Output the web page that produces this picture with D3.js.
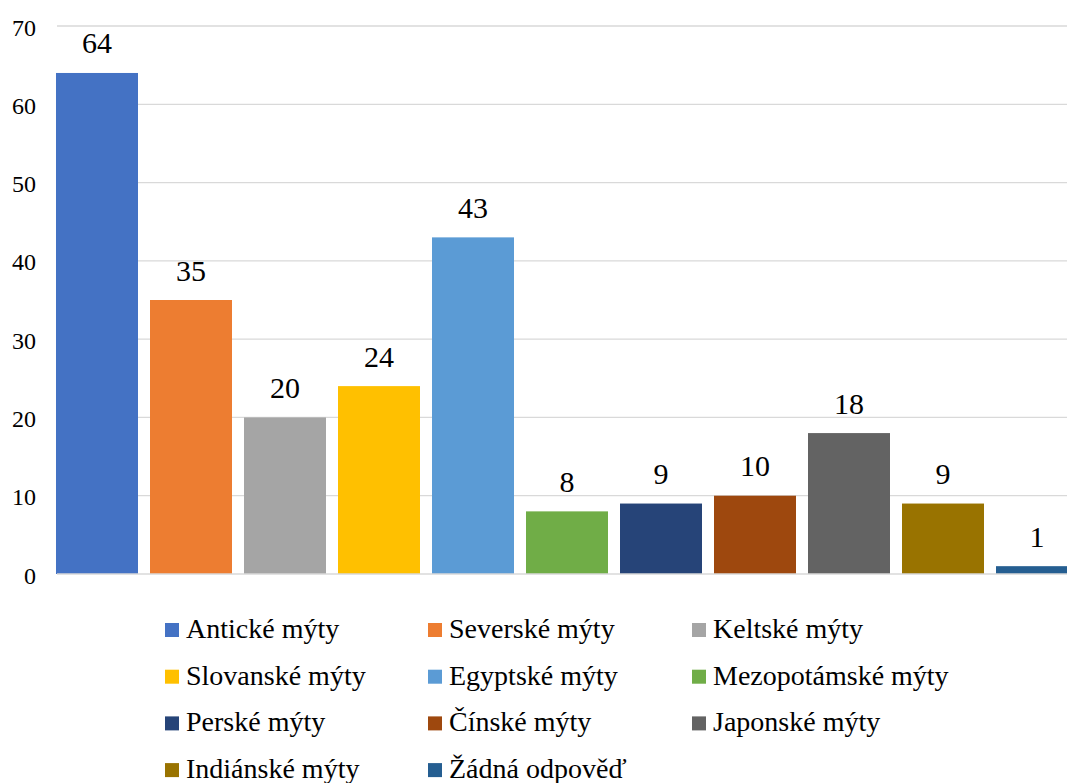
<!DOCTYPE html>
<html>
<head>
<meta charset="utf-8">
<script src="https://cdn.jsdelivr.net/npm/d3@7"></script>
<style>
  body { margin: 0; background: #fff; }
</style>
</head>
<body>
<svg id="chart"></svg>
<script>
// data
var categories = ["Antické mýty", "Severské mýty", "Keltské mýty", "Slovanské mýty",
    "Egyptské mýty", "Mezopotámské mýty", "Perské mýty", "Čínské mýty",
    "Japonské mýty", "Indiánské mýty", "Žádná odpověď"];
var values = [64, 35, 20, 24, 43, 8, 9, 10, 18, 9, 1];
var colors = ["#4472C4", "#ED7D31", "#A5A5A5", "#FFC000", "#5B9BD5", "#70AD47",
    "#264478", "#9E480E", "#636363", "#997300", "#255E91"];
var yTicks = [0, 10, 20, 30, 40, 50, 60, 70];

var width = 1067,
    height = 783;

var svg = d3.select("#chart")
    .attr("width", width)
    .attr("height", height);

var x = d3.scaleBand()
    .domain(categories)
    .range([50, 1084])
    .paddingInner(0.1277)
    .paddingOuter(0.0638);

var y = d3.scaleLinear().domain([0, 70]).range([574, 26]);

// gridlines
svg.append("g")
    .selectAll("line")
    .data(yTicks.slice(1))
    .enter().append("line")
    .attr("x1", 57)
    .attr("x2", 1067)
    .attr("y1", function (d) { return y(d); })
    .attr("y2", function (d) { return y(d); })
    .attr("stroke", "#d9d9d9")
    .attr("stroke-width", 1.3);

// y axis labels
var yAxis = svg.append("g")
    .attr("transform", "translate(46,0)")
    .call(d3.axisLeft(y).tickValues(yTicks).tickSize(0).tickPadding(10));
yAxis.select(".domain").remove();
yAxis.selectAll("text")
    .attr("dy", 9)
    .attr("fill", "#000")
    .style("font-family", "'Liberation Serif'")
    .style("font-size", "24px");

// bars
svg.selectAll(".bar")
    .data(values)
    .enter().append("rect")
    .attr("class", "bar")
    .attr("x", function (d, i) { return x(categories[i]); })
    .attr("y", function (d) { return y(d); })
    .attr("width", x.bandwidth())
    .attr("height", function (d) { return y(0) - y(d); })
    .attr("fill", function (d, i) { return colors[i]; });

// baseline
svg.append("line")
    .attr("x1", 57).attr("x2", 1067)
    .attr("y1", y(0)).attr("y2", y(0))
    .attr("stroke", "#d9d9d9")
    .attr("stroke-width", 1.3);

// value labels
svg.selectAll(".val")
    .data(values)
    .enter().append("text")
    .attr("class", "val")
    .attr("x", function (d, i) { return x(categories[i]) + x.bandwidth() / 2; })
    .attr("y", function (d) { return y(d) - 19.5; })
    .attr("text-anchor", "middle")
    .style("font-family", "'Liberation Serif'")
    .style("font-size", "30px")
    .text(function (d) { return d; });

// legend
var colX = [165, 428, 692];
var legend = svg.append("g")
    .selectAll("g")
    .data(categories)
    .enter().append("g")
    .attr("transform", function (d, i) {
        return "translate(" + colX[i % 3] + "," + (630 + 46.7 * Math.floor(i / 3)) + ")";
    });
legend.append("rect")
    .attr("x", 0).attr("y", -7)
    .attr("width", 14).attr("height", 14)
    .attr("fill", function (d, i) { return colors[i]; });
legend.append("text")
    .attr("x", 21)
    .attr("y", 8)
    .style("font-family", "'Liberation Serif'")
    .style("font-size", "28px")
    .text(function (d) { return d; });
</script>
</body>
</html>
